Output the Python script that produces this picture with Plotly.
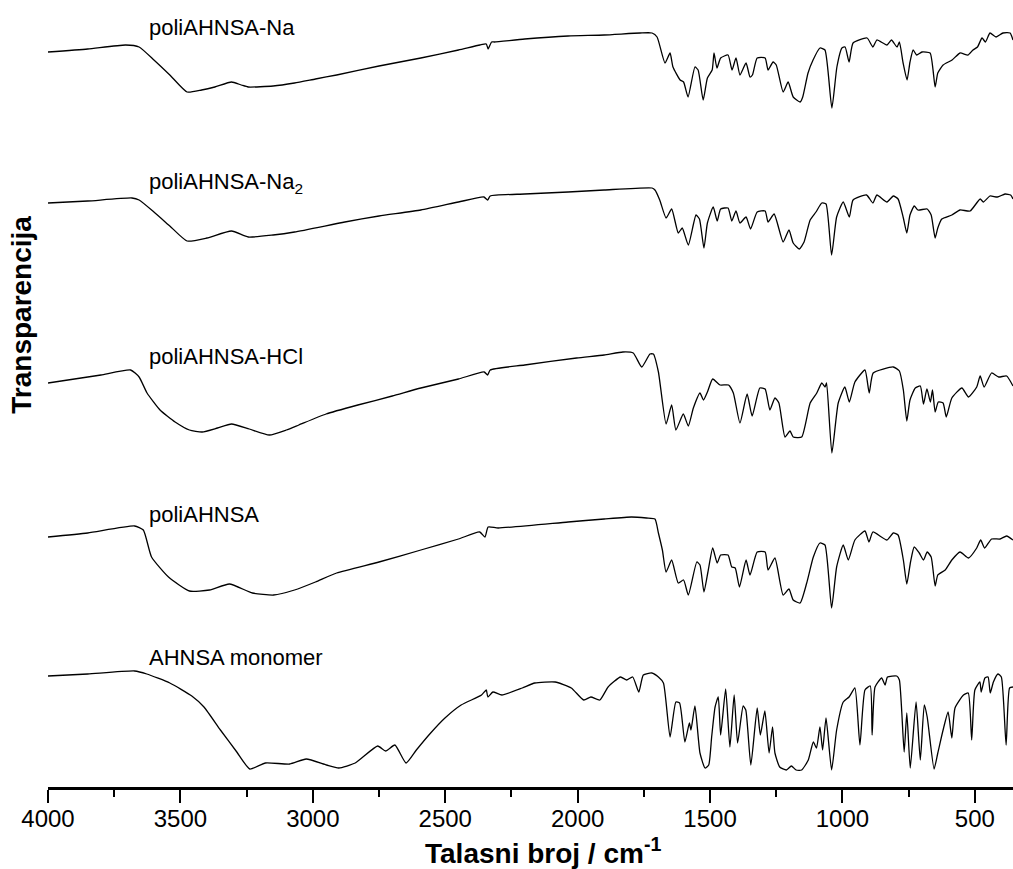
import plotly.graph_objects as go

# ---------------- data (wavenumber in cm-1, transmittance in a.u., stacked) ----------------
wn_na = [4000, 3850, 3707, 3656, 3600, 3540, 3475, 3420, 3370, 3307, 3270, 3244, 3150, 3069, 2990, 2910,
         2750, 2592, 2450, 2369, 2345, 2338, 2325, 2314, 2200, 2036, 1900, 1764, 1719,
         1700, 1670, 1651, 1640, 1613, 1600, 1583, 1557, 1545, 1526, 1510, 1492, 1485, 1474, 1460, 1432,
         1417, 1402, 1387, 1364, 1349, 1340, 1322, 1292, 1281, 1262, 1250, 1224, 1205, 1186, 1160, 1150,
         1130, 1111, 1085, 1066, 1040, 1021, 1002, 990, 975, 960, 907, 885, 870, 832, 815, 794, 785, 771,
         756, 745, 733, 720, 700, 669, 650, 640, 620, 586, 556, 526, 507, 490, 473, 460, 443, 420, 394,
         367, 356]
t_na = [735, 738, 742, 740, 727, 712, 695, 697, 700, 705, 702, 700, 701, 704, 708, 712,
        721, 729, 737, 742, 743, 738, 745, 745, 748, 751, 752, 754, 754,
        750, 724, 734, 720, 707, 705, 690, 720, 717, 687, 709, 717, 734, 719, 729, 732,
        717, 729, 712, 724, 710, 712, 729, 729, 717, 725, 722, 695, 705, 690, 685, 690,
        714, 727, 739, 737, 679, 720, 739, 740, 725, 744, 749, 740, 747, 742, 747, 740, 745, 724,
        707, 725, 737, 732, 735, 734, 700, 714, 722, 727, 734, 732, 737, 740, 749, 745, 754, 750, 754,
        754, 747]

wn_na2 = [4000, 3850, 3683, 3656, 3600, 3540, 3475, 3400, 3307, 3244, 3150, 3069, 2879, 2750, 2592, 2450,
          2354, 2340, 2330, 2200, 2036, 1900, 1719,
          1708, 1690, 1666, 1645, 1620, 1605, 1582, 1553, 1540, 1523, 1510, 1488, 1473, 1460, 1432, 1418,
          1402, 1387, 1364, 1347, 1322, 1292, 1281, 1258, 1224, 1202, 1186, 1163, 1145, 1122, 1100, 1078,
          1062, 1041, 1022, 997, 974, 960, 909, 885, 870, 832, 808, 790, 770, 757, 745, 729, 715, 680, 665,
          650, 640, 625, 587, 556, 518, 480, 468, 443, 415, 386, 365, 356]
t_na2 = [584, 586, 589, 587, 575, 561, 546, 549, 556, 550, 552, 555, 565, 571, 577, 585,
         590, 587, 591, 593, 595, 597, 599,
         597, 587, 569, 578, 554, 559, 542, 572, 568, 539, 564, 580, 566, 578, 579, 566,
         576, 564, 570, 558, 575, 576, 565, 573, 545, 557, 544, 538, 545, 567, 575, 584,
         583, 532, 570, 585, 570, 587, 592, 584, 592, 585, 591, 588, 569, 554, 572, 581, 577, 578, 572,
         549, 559, 568, 572, 577, 576, 588, 585, 591, 590, 593, 592, 588]

wn_hcl = [4000, 3900, 3800, 3688, 3656, 3626, 3577, 3520, 3466, 3418, 3360, 3307, 3240, 3164, 3100, 3053,
          2950, 2830, 2700, 2592, 2450, 2353, 2340, 2330, 2200, 2004, 1900, 1829, 1790, 1758, 1727,
          1714, 1695, 1666, 1645, 1629, 1601, 1582, 1563, 1538, 1525, 1510, 1490, 1462, 1430, 1412, 1387,
          1360, 1341, 1312, 1292, 1274, 1255, 1240, 1217, 1198, 1186, 1154, 1122, 1097, 1078, 1066, 1060,
          1040, 1016, 991, 974, 953, 915, 899, 884, 808, 785, 770, 757, 745, 725, 706, 694, 681, 668, 660,
          650, 638, 620, 608, 587, 549, 524, 493, 480, 465, 437, 410, 380, 356]
t_hcl = [404, 408, 412, 417, 410, 394, 377, 365, 357, 355, 359, 363, 358, 352, 357, 362,
         373, 382, 391, 399, 408, 415, 412, 417, 422, 429, 432, 435, 434, 420, 433,
         433, 415, 363, 382, 357, 373, 361, 379, 394, 387, 395, 408, 402, 402, 394, 364,
         393, 371, 399, 398, 377, 389, 384, 350, 356, 350, 350, 384, 394, 404, 400, 404,
         334, 384, 400, 385, 405, 417, 394, 414, 420, 416, 397, 366, 387, 399, 401, 383, 398, 385, 397,
         375, 385, 384, 370, 389, 399, 390, 400, 411, 400, 414, 410, 411, 401]

wn_pol = [4000, 3850, 3673, 3640, 3609, 3545, 3466, 3390, 3315, 3228, 3148, 3069, 2990, 2910, 2750, 2592,
          2450, 2370, 2350, 2338, 2300, 2036, 1900, 1797, 1740,
          1708, 1695, 1680, 1666, 1645, 1620, 1600, 1582, 1550, 1538, 1523, 1508, 1490, 1473, 1460, 1432,
          1418, 1405, 1389, 1364, 1349, 1322, 1292, 1281, 1255, 1224, 1202, 1186, 1160, 1135, 1110, 1085,
          1066, 1041, 1022, 997, 978, 953, 915, 900, 885, 832, 808, 790, 770, 757, 743, 729, 710, 694, 680,
          665, 650, 640, 612, 587, 556, 524, 493, 478, 463, 437, 405, 380, 356]
t_pol = [250, 254, 261, 257, 230, 210, 196, 197, 203, 194, 192, 197, 205, 214, 225, 237,
         248, 255, 250, 260, 259, 265, 268, 270, 269,
         268, 254, 237, 215, 227, 204, 207, 192, 225, 222, 195, 215, 239, 224, 232, 232,
         220, 219, 200, 227, 212, 235, 235, 217, 229, 192, 198, 187, 184, 204, 230, 244,
         242, 179, 220, 242, 227, 247, 256, 245, 255, 247, 254, 252, 227, 203, 225, 240, 234, 227, 235,
         230, 201, 212, 217, 227, 235, 229, 239, 247, 239, 248, 248, 251, 247]

wn_mono = [4000, 3850, 3673, 3627, 3540, 3457, 3411, 3349, 3287, 3238, 3179, 3087, 3025, 2948, 2902, 2840,
           2755, 2725, 2690, 2648, 2609, 2555, 2501, 2440, 2363, 2345, 2339, 2320, 2286, 2209, 2162, 2085,
           2024, 1977, 1950, 1916, 1885, 1838, 1815, 1792, 1769,
           1752, 1720, 1695, 1676, 1651, 1629, 1615, 1595, 1578, 1572, 1557, 1538, 1519, 1505, 1494, 1481,
           1469, 1460, 1441, 1425, 1409, 1396, 1375, 1365, 1346, 1322, 1310, 1293, 1277, 1264, 1255, 1237,
           1212, 1193, 1175, 1154, 1129, 1110, 1098, 1085, 1075, 1062, 1041, 1022, 997, 975, 953, 934, 915,
           895, 888, 877, 852, 839, 830, 795, 785, 767, 757, 744, 722, 706, 691, 680, 654, 640, 620, 601,
           587, 575, 543, 525, 512, 500, 481, 476, 462, 450, 442, 430, 413, 400, 382, 369, 356]
t_mono = [111, 113, 116, 113, 104, 91, 80, 57, 35, 18, 24, 23, 28, 22, 19, 24,
          41, 36, 42, 24, 37, 54, 69, 82, 92, 97, 90, 95, 92, 99, 104, 105,
          99, 87, 90, 87, 100, 110, 107, 110, 95,
          112, 114, 110, 104, 50, 85, 84, 45, 64, 57, 81, 34, 19, 22, 50, 80,
          90, 52, 98, 40, 92, 44, 81, 77, 22, 79, 52, 76, 34, 60, 34, 20,
          17, 21, 17, 17, 27, 45, 39, 60, 37, 69, 17, 57, 85, 90, 99, 42, 97,
          101, 52, 100, 109, 102, 110, 111, 107, 35, 74, 19, 85, 27, 82, 70, 18, 34, 57, 75,
          49, 79, 92, 94, 47, 97, 105, 95, 109, 110, 94, 105, 113, 110, 42, 99, 100]

series = [
    ("poliAHNSA-Na", wn_na, t_na),
    ("poliAHNSA-Na<sub>2</sub>", wn_na2, t_na2),
    ("poliAHNSA-HCl", wn_hcl, t_hcl),
    ("poliAHNSA", wn_pol, t_pol),
    ("AHNSA monomer", wn_mono, t_mono),
]

label_wn = 3625
label_t = [760, 604, 431, 273, 130]

x_ticks = [4000, 3500, 3000, 2500, 2000, 1500, 1000, 500]

# ---------------- figure ----------------
FONT = "Liberation Sans, Arial, Helvetica, sans-serif"
fig = go.Figure()
for name, wn, t in series:
    fig.add_trace(go.Scatter(x=wn, y=t, mode="lines", name=name,
                             line=dict(color="black", width=1.3, shape="spline", smoothing=0.5),
                             showlegend=False, hoverinfo="skip"))

for (name, _, _), ly in zip(series, label_t):
    fig.add_annotation(x=label_wn, y=ly, xref="x", yref="y", text=name, showarrow=False,
                       xanchor="left", yanchor="middle",
                       font=dict(family=FONT, size=22, color="black"))

fig.add_annotation(x=0.513, y=-0.081, xref="paper", yref="paper",
                   text="<b>Talasni broj / cm<sup>-1</sup></b>", showarrow=False,
                   xanchor="center", yanchor="middle",
                   font=dict(family=FONT, size=28, color="black"))
fig.add_annotation(x=-0.027, y=0.60, xref="paper", yref="paper",
                   text="<b>Transparencija</b>", showarrow=False, textangle=-90,
                   xanchor="center", yanchor="middle",
                   font=dict(family=FONT, size=28, color="black"))

fig.update_layout(
    width=1013, height=869,
    margin=dict(l=48, r=0, t=0, b=82),
    paper_bgcolor="white", plot_bgcolor="white",
    xaxis=dict(range=[4000, 356], tickvals=x_ticks, ticktext=[str(v) for v in x_ticks],
               showline=True, linecolor="black", linewidth=2.5, mirror=False,
               ticks="outside", ticklen=13, tickwidth=2, tickcolor="black",
               ticklabelstandoff=-5,
               showgrid=False, zeroline=False, automargin=False,
               tickfont=dict(family=FONT, size=24, color="black"),
               minor=dict(dtick=250, ticks="outside", ticklen=7, tickwidth=2,
                          tickcolor="black", showgrid=False)),
    yaxis=dict(range=[0, 787], visible=False, showgrid=False, zeroline=False, automargin=False),
)

fig.write_html("out.html", config={"displayModeBar": False},
               post_script="document.body.style.margin='0';")
